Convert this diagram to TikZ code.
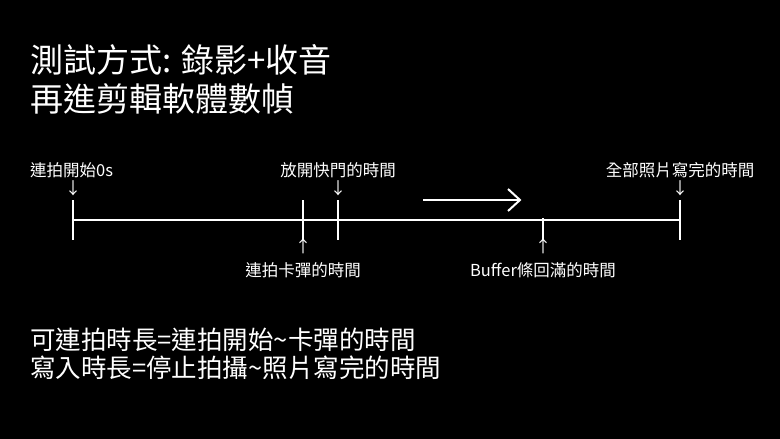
\documentclass[tikz,border=0pt]{standalone}
\usepackage{fontspec}
\setmainfont{Noto Sans CJK TC}
\begin{document}
\begin{tikzpicture}[x=1pt,y=-1pt,
  lbl/.style={text=white,font=\fontsize{16.5}{19}\selectfont,inner sep=0pt},
  big/.style={text=white,font=\fontsize{33}{40}\selectfont,inner sep=0pt,anchor=west},
  mid/.style={text=white,font=\fontsize{25.5}{30}\selectfont,inner sep=0pt,anchor=west},
  tl/.style={white,line width=2.5pt}]
\fill[black] (0,0) rectangle (780,439);
\useasboundingbox (0,0) rectangle (780,439);
\node[big] (t1) at (30,60) {測試方式: 錄影+收音};
\node[big] (t2) at (30,99) {再進剪輯軟體數幀};
\coordinate (a) at (73,220); \coordinate (b) at (680,220);
\draw[tl] (a) -- (b);
\foreach \x in {73,303,338,680} \draw[tl] (\x,200) -- (\x,240);
\draw[tl] (543,218) -- (543,240);
\coordinate (ar1) at (423,200); \coordinate (ar2) at (520,200);
\draw[white,line width=2pt] (ar1) -- (ar2);
\draw[white,line width=2pt] (508,189) -- (520,200) -- (508,211);
\node[lbl,anchor=west] (l1) at (30,170) {連拍開始0s};
\node[lbl] (d1) at (73,188) {↓};
\node[lbl] (l2) at (338,170) {放開快門的時間};
\node[lbl] (d2) at (338,188) {↓};
\node[lbl] (l3) at (680,170) {全部照片寫完的時間};
\node[lbl] (d3) at (680,188) {↓};
\node[lbl] (u1) at (303,246) {↑};
\node[lbl] (l4) at (303,270) {連拍卡彈的時間};
\node[lbl] (u2) at (543,246) {↑};
\node[lbl] (l5) at (543,270) {Buffer條回滿的時間};
\node[mid] (b1) at (30,340) {可連拍時長=連拍開始\textasciitilde 卡彈的時間};
\node[mid] (b2) at (30,368) {寫入時長=停止拍攝\textasciitilde 照片寫完的時間};
\end{tikzpicture}
\end{document}
